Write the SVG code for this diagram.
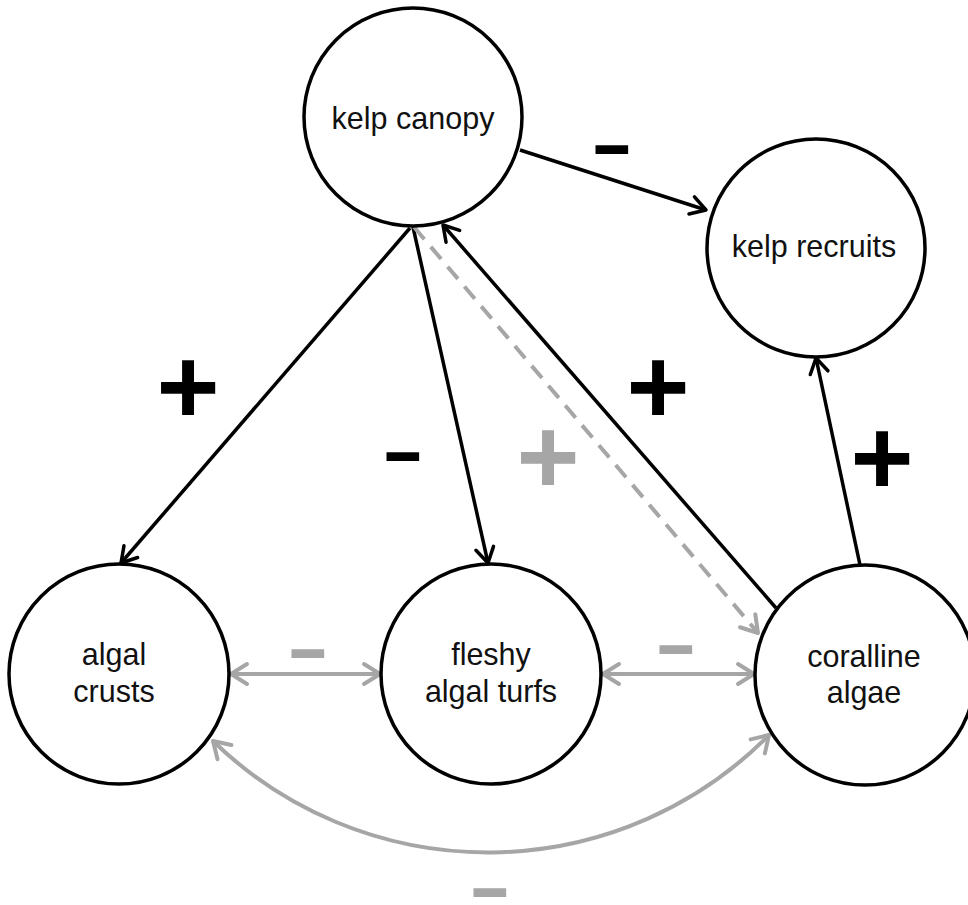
<svg xmlns="http://www.w3.org/2000/svg" width="968" height="905" viewBox="0 0 968 905">
<style>
.node circle{fill:#fff;stroke:#000;stroke-width:3.5}
.node text{font-family:"Liberation Sans",Arial,sans-serif;font-size:30.5px;fill:#111;text-anchor:middle}
.blk{stroke:#000;stroke-width:3.5;fill:none}
.gry{stroke:#a6a6a6;stroke-width:4;fill:none}
.dsh{stroke:#a6a6a6;stroke-width:4;fill:none;stroke-dasharray:16 10}
.lbl{font-family:"Liberation Sans",Arial,sans-serif;font-weight:bold;font-size:108px;text-anchor:middle}
.lb{fill:#000}
.lg{fill:#a6a6a6}
</style>
<defs>
<marker id="ab" markerUnits="userSpaceOnUse" markerWidth="40" markerHeight="40" viewBox="-20 -20 40 40" refX="0" refY="0" orient="auto-start-reverse" overflow="visible">
<path d="M-15,-9 L0,0 L-15,9" fill="none" stroke="#000" stroke-width="3.5" stroke-linecap="round" stroke-linejoin="round"/>
</marker>
<marker id="ag" markerUnits="userSpaceOnUse" markerWidth="40" markerHeight="40" viewBox="-20 -20 40 40" refX="0" refY="0" orient="auto-start-reverse" overflow="visible">
<path d="M-16,-10 L0,0 L-16,10" fill="none" stroke="#a6a6a6" stroke-width="4" stroke-linecap="round" stroke-linejoin="round"/>
</marker>
</defs>
<g id="connectors">
<line class="blk" x1="520" y1="150" x2="706" y2="210" marker-end="url(#ab)"/>
<line class="blk" x1="410" y1="228" x2="121" y2="563" marker-end="url(#ab)"/>
<line class="blk" x1="413" y1="227" x2="488" y2="563" marker-end="url(#ab)"/>
<line class="blk" x1="776" y1="608" x2="443" y2="225" marker-end="url(#ab)"/>
<line class="dsh" x1="414" y1="227" x2="758" y2="633" marker-end="url(#ag)"/>
<line class="blk" x1="860" y1="565" x2="816" y2="358" marker-end="url(#ab)"/>
<line class="gry" x1="231" y1="674" x2="380" y2="674" marker-start="url(#ag)" marker-end="url(#ag)"/>
<line class="gry" x1="603" y1="674" x2="754" y2="674" marker-start="url(#ag)" marker-end="url(#ag)"/>
<path class="gry" d="M213,741 A395,395 0 0,0 769,735" marker-start="url(#ag)" marker-end="url(#ag)"/>
</g>
<g id="labels">
<text class="lbl lb" transform="translate(612,150) scale(1.19,0.68)" x="0" y="28">-</text>
<text class="lbl lb" x="188" y="423">+</text>
<text class="lbl lb" transform="translate(403,457) scale(1.19,0.68)" x="0" y="28">-</text>
<text class="lbl lb" x="658" y="423">+</text>
<text class="lbl lg" x="548" y="493">+</text>
<text class="lbl lb" x="882" y="494">+</text>
<text class="lbl lg" transform="translate(308,654) scale(1.19,0.68)" x="0" y="28">-</text>
<text class="lbl lg" transform="translate(676,650) scale(1.19,0.68)" x="0" y="28">-</text>
<text class="lbl lg" transform="translate(490,893) scale(1.19,0.68)" x="0" y="28">-</text>
</g>
<g id="kelp-canopy" class="node">
<circle cx="413" cy="117" r="109"/>
<text x="413" y="129">kelp canopy</text>
</g>
<g id="kelp-recruits" class="node">
<circle cx="816" cy="248" r="109"/>
<text x="814" y="257">kelp recruits</text>
</g>
<g id="algal-crusts" class="node">
<circle cx="119" cy="674" r="110"/>
<text x="114" y="665">algal</text>
<text x="114" y="702">crusts</text>
</g>
<g id="fleshy-algal-turfs" class="node">
<circle cx="491" cy="674" r="110"/>
<text x="491" y="665">fleshy</text>
<text x="491" y="702">algal turfs</text>
</g>
<g id="coralline-algae" class="node">
<circle cx="865" cy="675" r="110"/>
<text x="864" y="667">coralline</text>
<text x="864" y="703">algae</text>
</g>
</svg>
